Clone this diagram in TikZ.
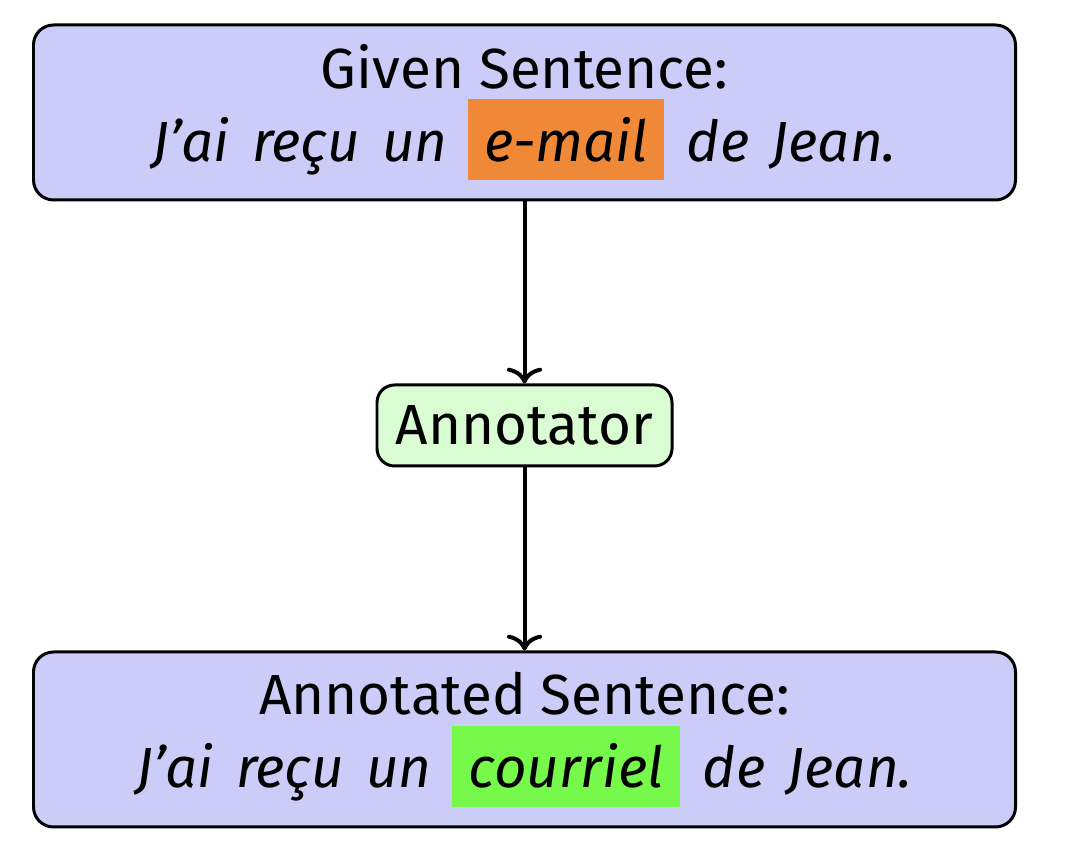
\documentclass[tikz,border=0pt]{standalone}
\usepackage{fontspec}
\setmainfont{Fira Sans}
\usetikzlibrary{arrows.meta}
\definecolor{sentblue}{RGB}{204,204,248}
\definecolor{annogreen}{RGB}{217,252,210}
\definecolor{hlorange}{RGB}{239,137,56}
\definecolor{hlgreen}{RGB}{119,249,76}
\newcommand{\hlword}[2]{{\setlength{\fboxsep}{0.32em}\colorbox{#1}{\hspace{-0.03em}#2\hspace{-0.03em}}}}
\newcommand{\sentline}[2]{\itshape\spaceskip=0.4em J’ai reçu un\hspace{0.36em}\hlword{#1}{#2}\hspace{0.4em}de Jean.}

\begin{document}
\begin{tikzpicture}[scale=1.0,
  sentbox/.style={draw, line width=1.7pt, rounded corners=0.4cm, fill=sentblue,
    minimum width=19.64cm, minimum height=3.5cm, align=center,
    font=\fontsize{32.2}{41.5}\selectfont},
  annobox/.style={draw, line width=1.7pt, rounded corners=0.35cm, fill=annogreen,
    minimum width=5.9cm, minimum height=1.62cm,
    font=\fontsize{32.2}{41.5}\selectfont},
  flowline/.style={-{To[length=9pt,width=20pt]}}]
\useasboundingbox (0,0) rectangle (21.44,17.36);
\node[sentbox] (given) at (10.49,15.11)
  {Given Sentence:\\ {\sentline{hlorange}{e-mail}}};
\node[annobox] (annot) at (10.49,8.85) {Annotator};
\node[sentbox] (result) at (10.49,2.57)
  {Annotated Sentence:\\ {\sentline{hlgreen}{courriel}}};
\draw[flowline, line width=0.08cm] (given.south) -- (annot.north);
\draw[flowline, line width=0.08cm] (annot.south) -- (result.north);
\end{tikzpicture}
\end{document}
